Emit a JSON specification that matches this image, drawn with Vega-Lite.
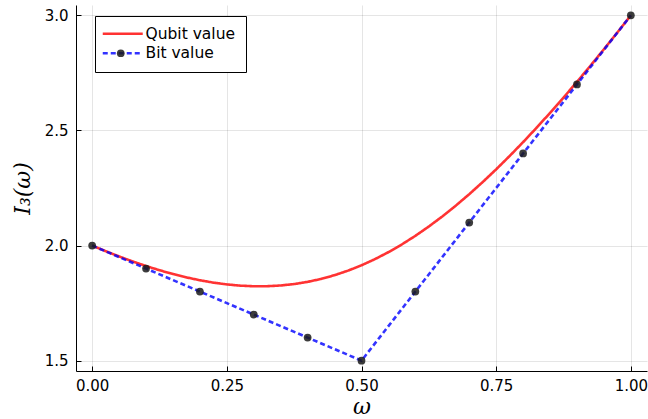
{
  "$schema": "https://vega.github.io/schema/vega-lite/v6.json",
  "width": 571,
  "height": 366,
  "autosize": {"type": "none"},
  "padding": {"left": 76, "top": 5, "right": 1, "bottom": 48},
  "background": "white",
  "config": {
    "view": {"stroke": null},
    "axis": {
      "domainColor": "#000",
      "domainWidth": 1,
      "tickColor": "#000",
      "tickSize": -5,
      "tickWidth": 1,
      "labelFont": "DejaVu Sans",
      "labelFontSize": 15,
      "labelColor": "#000",
      "gridColor": "#000",
      "gridOpacity": 0.1,
      "gridWidth": 1,
      "titleFont": "DejaVu Serif",
      "titleFontStyle": "italic",
      "titleFontWeight": "normal",
      "titleFontSize": 22,
      "titleColor": "#000"
    },
    "legend": {
      "labelFont": "DejaVu Sans",
      "labelFontSize": 15.5,
      "labelColor": "#000"
    }
  },
  "datasets": {
    "curve": [
      {"w": 0.0, "v": 2.0, "series": "Qubit value"},
      {"w": 0.025, "v": 1.97564, "series": "Qubit value"},
      {"w": 0.05, "v": 1.95263, "series": "Qubit value"},
      {"w": 0.075, "v": 1.93107, "series": "Qubit value"},
      {"w": 0.1, "v": 1.91108, "series": "Qubit value"},
      {"w": 0.125, "v": 1.89277, "series": "Qubit value"},
      {"w": 0.15, "v": 1.87627, "series": "Qubit value"},
      {"w": 0.175, "v": 1.86171, "series": "Qubit value"},
      {"w": 0.2, "v": 1.84924, "series": "Qubit value"},
      {"w": 0.225, "v": 1.839, "series": "Qubit value"},
      {"w": 0.25, "v": 1.83114, "series": "Qubit value"},
      {"w": 0.275, "v": 1.82581, "series": "Qubit value"},
      {"w": 0.3, "v": 1.82315, "series": "Qubit value"},
      {"w": 0.325, "v": 1.82333, "series": "Qubit value"},
      {"w": 0.35, "v": 1.82648, "series": "Qubit value"},
      {"w": 0.375, "v": 1.83274, "series": "Qubit value"},
      {"w": 0.4, "v": 1.84222, "series": "Qubit value"},
      {"w": 0.425, "v": 1.85504, "series": "Qubit value"},
      {"w": 0.45, "v": 1.87127, "series": "Qubit value"},
      {"w": 0.475, "v": 1.89098, "series": "Qubit value"},
      {"w": 0.5, "v": 1.91421, "series": "Qubit value"},
      {"w": 0.525, "v": 1.94098, "series": "Qubit value"},
      {"w": 0.55, "v": 1.97127, "series": "Qubit value"},
      {"w": 0.575, "v": 2.00504, "series": "Qubit value"},
      {"w": 0.6, "v": 2.04222, "series": "Qubit value"},
      {"w": 0.625, "v": 2.08274, "series": "Qubit value"},
      {"w": 0.65, "v": 2.12648, "series": "Qubit value"},
      {"w": 0.675, "v": 2.17333, "series": "Qubit value"},
      {"w": 0.7, "v": 2.22315, "series": "Qubit value"},
      {"w": 0.725, "v": 2.27581, "series": "Qubit value"},
      {"w": 0.75, "v": 2.33114, "series": "Qubit value"},
      {"w": 0.775, "v": 2.389, "series": "Qubit value"},
      {"w": 0.8, "v": 2.44924, "series": "Qubit value"},
      {"w": 0.825, "v": 2.51171, "series": "Qubit value"},
      {"w": 0.85, "v": 2.57627, "series": "Qubit value"},
      {"w": 0.875, "v": 2.64277, "series": "Qubit value"},
      {"w": 0.9, "v": 2.71108, "series": "Qubit value"},
      {"w": 0.925, "v": 2.78107, "series": "Qubit value"},
      {"w": 0.95, "v": 2.85263, "series": "Qubit value"},
      {"w": 0.975, "v": 2.92564, "series": "Qubit value"},
      {"w": 1.0, "v": 3.0, "series": "Qubit value"}
    ],
    "bits": [
      {"w": 0.0, "v": 2.0, "series": "Bit value", "s2": "b"},
      {"w": 0.1, "v": 1.9, "series": "Bit value", "s2": "b"},
      {"w": 0.2, "v": 1.8, "series": "Bit value", "s2": "b"},
      {"w": 0.3, "v": 1.7, "series": "Bit value", "s2": "b"},
      {"w": 0.4, "v": 1.6, "series": "Bit value", "s2": "b"},
      {"w": 0.5, "v": 1.5, "series": "Bit value", "s2": "b"},
      {"w": 0.6, "v": 1.8, "series": "Bit value", "s2": "b"},
      {"w": 0.7, "v": 2.1, "series": "Bit value", "s2": "b"},
      {"w": 0.8, "v": 2.4, "series": "Bit value", "s2": "b"},
      {"w": 0.9, "v": 2.7, "series": "Bit value", "s2": "b"},
      {"w": 1.0, "v": 3.0, "series": "Bit value", "s2": "b"}
    ]
  },
  "encoding": {
    "x": {
      "field": "w",
      "type": "quantitative",
      "scale": {"domain": [-0.03, 1.03], "nice": false, "zero": false},
      "axis": {"values": [0, 0.25, 0.5, 0.75, 1], "format": ".2f", "title": "ω", "labelPadding": 12, "titlePadding": 3}
    },
    "y": {
      "field": "v",
      "type": "quantitative",
      "scale": {"domain": [1.455, 3.045], "nice": false, "zero": false},
      "axis": {"values": [1.5, 2, 2.5, 3], "format": ".1f", "title": "I₃(ω)", "labelPadding": 13, "titlePadding": 10}
    }
  },
  "layer": [
    {
      "data": {"name": "curve"},
      "mark": {"type": "line", "strokeWidth": 2.6, "opacity": 0.8},
      "encoding": {
        "color": {
          "field": "series",
          "type": "nominal",
          "scale": {"domain": ["Qubit value", "Bit value"], "range": ["#ff0000", "#0000ff"]},
          "legend": {
            "orient": "none",
            "legendX": 19,
            "legendY": 11,
            "title": null,
            "symbolType": "M-4,0L4,0",
            "symbolSize": 100,
            "symbolOffset": 10,
            "symbolStrokeWidth": 2.6,
            "strokeColor": "#000",
            "fillColor": "#fff",
            "padding": 10,
            "labelOffset": 15,
            "rowPadding": 2.5
          }
        },
        "strokeDash": {
          "field": "series",
          "type": "nominal",
          "scale": {"domain": ["Qubit value", "Bit value"], "range": [[1, 0], [5, 3]]}
        }
      }
    },
    {
      "data": {"name": "bits"},
      "mark": {"type": "line", "strokeWidth": 2.6, "opacity": 0.8},
      "encoding": {
        "color": {"field": "series", "type": "nominal"},
        "strokeDash": {"field": "series", "type": "nominal"}
      }
    },
    {
      "data": {"name": "bits"},
      "mark": {"type": "point", "filled": true, "size": 60, "color": "#1a1a1a", "opacity": 0.85},
      "encoding": {
        "shape": {
          "field": "s2",
          "type": "nominal",
          "scale": {"domain": ["q", "b"], "range": ["M0,0", "circle"]},
          "legend": {
            "orient": "none",
            "legendX": 27,
            "legendY": 11,
            "title": null,
            "symbolSize": 60,
            "symbolFillColor": "#1a1a1a",
            "symbolStrokeWidth": 0,
            "labelColor": "transparent",
            "padding": 10,
            "labelOffset": 5,
            "rowPadding": 2.5
          }
        }
      }
    }
  ]
}
